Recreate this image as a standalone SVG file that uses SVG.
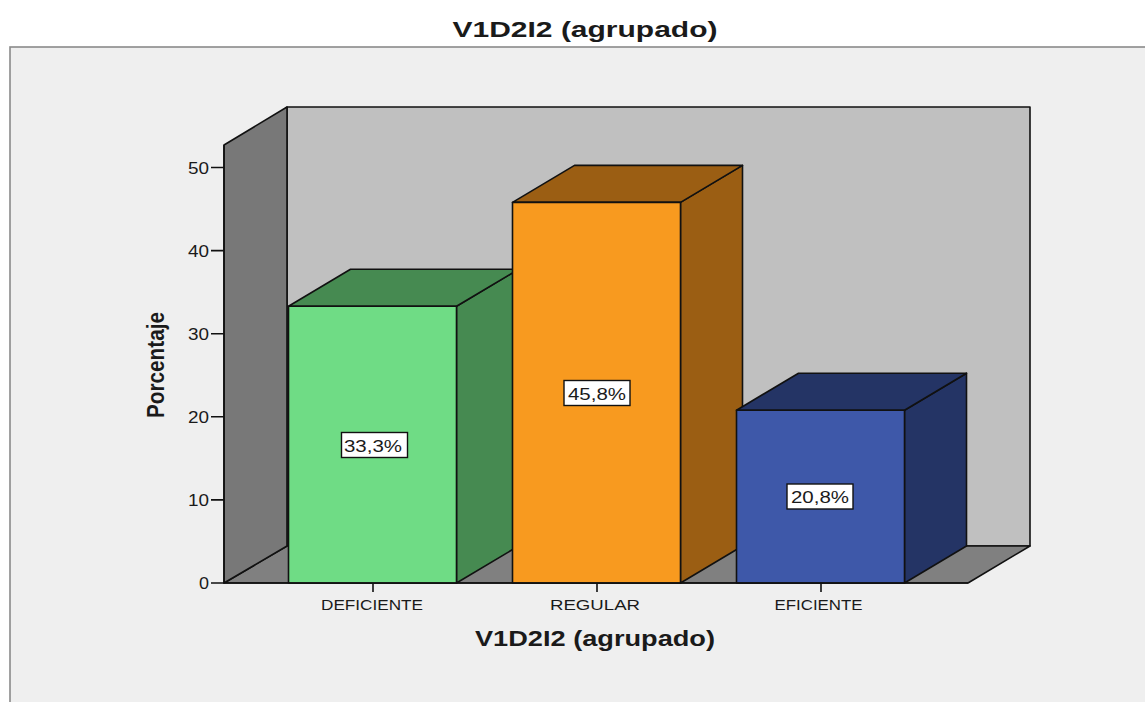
<svg xmlns="http://www.w3.org/2000/svg" width="1145" height="702" viewBox="0 0 1145 702">
<style>
text{font-family:"Liberation Sans",Arial,sans-serif;fill:#1a1a1a}
.title{font-size:22px;font-weight:bold;text-anchor:middle}
.ylab{font-size:24px;font-weight:bold;text-anchor:middle}
.tick{font-size:16px;text-anchor:end}
.cat{font-size:15px;text-anchor:middle}
.val{font-size:16px;text-anchor:middle}
.edge{stroke:#111;stroke-width:1.6;stroke-linejoin:round}
.box{fill:#fff;stroke:#111;stroke-width:1.4}
.axl{stroke:#111;stroke-width:1.6;fill:none}
</style>
<rect x="0" y="0" width="1145" height="702" fill="#fff"/>
<rect x="10" y="47" width="1140" height="660" fill="#efefef" stroke="#8a8a8a" stroke-width="1.6"/>
<text class="title" x="585" y="37" textLength="265" lengthAdjust="spacingAndGlyphs">V1D2I2 (agrupado)</text>
<g id="walls">
<polygon class="edge" points="287,107 1030,107 1030,546 287,546" fill="#c0c0c0"/>
<polygon class="edge" points="224,583 968,583 1030,546 287,546" fill="#808080"/>
<polygon class="edge" points="224,145 287,107 287,546 224,583" fill="#787878"/>
</g>
<g id="bar-deficiente">
<polygon class="edge" points="456.5,306.3 518.5,269.3 518.5,546 456.5,583" fill="#468a51"/>
<polygon class="edge" points="288.5,306.3 350.5,269.3 518.5,269.3 456.5,306.3" fill="#468a51"/>
<rect class="edge" x="288.5" y="306.3" width="168" height="276.7" fill="#6fdc85"/>
</g>
<g id="bar-regular">
<polygon class="edge" points="680.5,202.4 742.5,165.4 742.5,546 680.5,583" fill="#9b5e13"/>
<polygon class="edge" points="512.5,202.4 574.5,165.4 742.5,165.4 680.5,202.4" fill="#9b5e13"/>
<rect class="edge" x="512.5" y="202.4" width="168" height="380.6" fill="#f89a1f"/>
</g>
<g id="bar-eficiente">
<polygon class="edge" points="904.5,410.2 966.5,373.2 966.5,546 904.5,583" fill="#243465"/>
<polygon class="edge" points="736.5,410.2 798.5,373.2 966.5,373.2 904.5,410.2" fill="#243465"/>
<rect class="edge" x="736.5" y="410.2" width="168" height="172.8" fill="#3e58a9"/>
</g>
<g id="axes">
<line class="axl" x1="224" y1="583" x2="968" y2="583"/>
<line class="axl" x1="224" y1="145" x2="224" y2="583"/>
<path class="axl" d="M211 583H224M211 499.9H224M211 416.8H224M211 333.7H224M211 250.6H224M211 167.5H224"/>
<path class="axl" d="M373 583V592M597 583V592M821 583V592"/>
<text class="tick" x="209" y="589" textLength="10" lengthAdjust="spacingAndGlyphs">0</text>
<text class="tick" x="209" y="505.5" textLength="21" lengthAdjust="spacingAndGlyphs">10</text>
<text class="tick" x="209" y="422.5" textLength="21" lengthAdjust="spacingAndGlyphs">20</text>
<text class="tick" x="209" y="339.5" textLength="21" lengthAdjust="spacingAndGlyphs">30</text>
<text class="tick" x="209" y="256.5" textLength="21" lengthAdjust="spacingAndGlyphs">40</text>
<text class="tick" x="209" y="173.5" textLength="21" lengthAdjust="spacingAndGlyphs">50</text>
<text class="cat" x="372" y="609.5" textLength="102" lengthAdjust="spacingAndGlyphs">DEFICIENTE</text>
<text class="cat" x="595" y="609.5" textLength="90" lengthAdjust="spacingAndGlyphs">REGULAR</text>
<text class="cat" x="818.5" y="609.5" textLength="88" lengthAdjust="spacingAndGlyphs">EFICIENTE</text>
<text class="title" x="595" y="646" textLength="240" lengthAdjust="spacingAndGlyphs">V1D2I2 (agrupado)</text>
<text class="ylab" transform="translate(164,365) rotate(-90)" x="0" y="0" textLength="106" lengthAdjust="spacingAndGlyphs">Porcentaje</text>
</g>
<g id="labels">
<rect class="box" x="341.5" y="432.5" width="66" height="25"/>
<text class="val" x="373" y="451.5" textLength="58" lengthAdjust="spacingAndGlyphs">33,3%</text>
<rect class="box" x="564" y="380.5" width="66" height="25"/>
<text class="val" x="597" y="399.5" textLength="58" lengthAdjust="spacingAndGlyphs">45,8%</text>
<rect class="box" x="787" y="484" width="66" height="25"/>
<text class="val" x="820" y="503" textLength="58" lengthAdjust="spacingAndGlyphs">20,8%</text>
</g>
</svg>
